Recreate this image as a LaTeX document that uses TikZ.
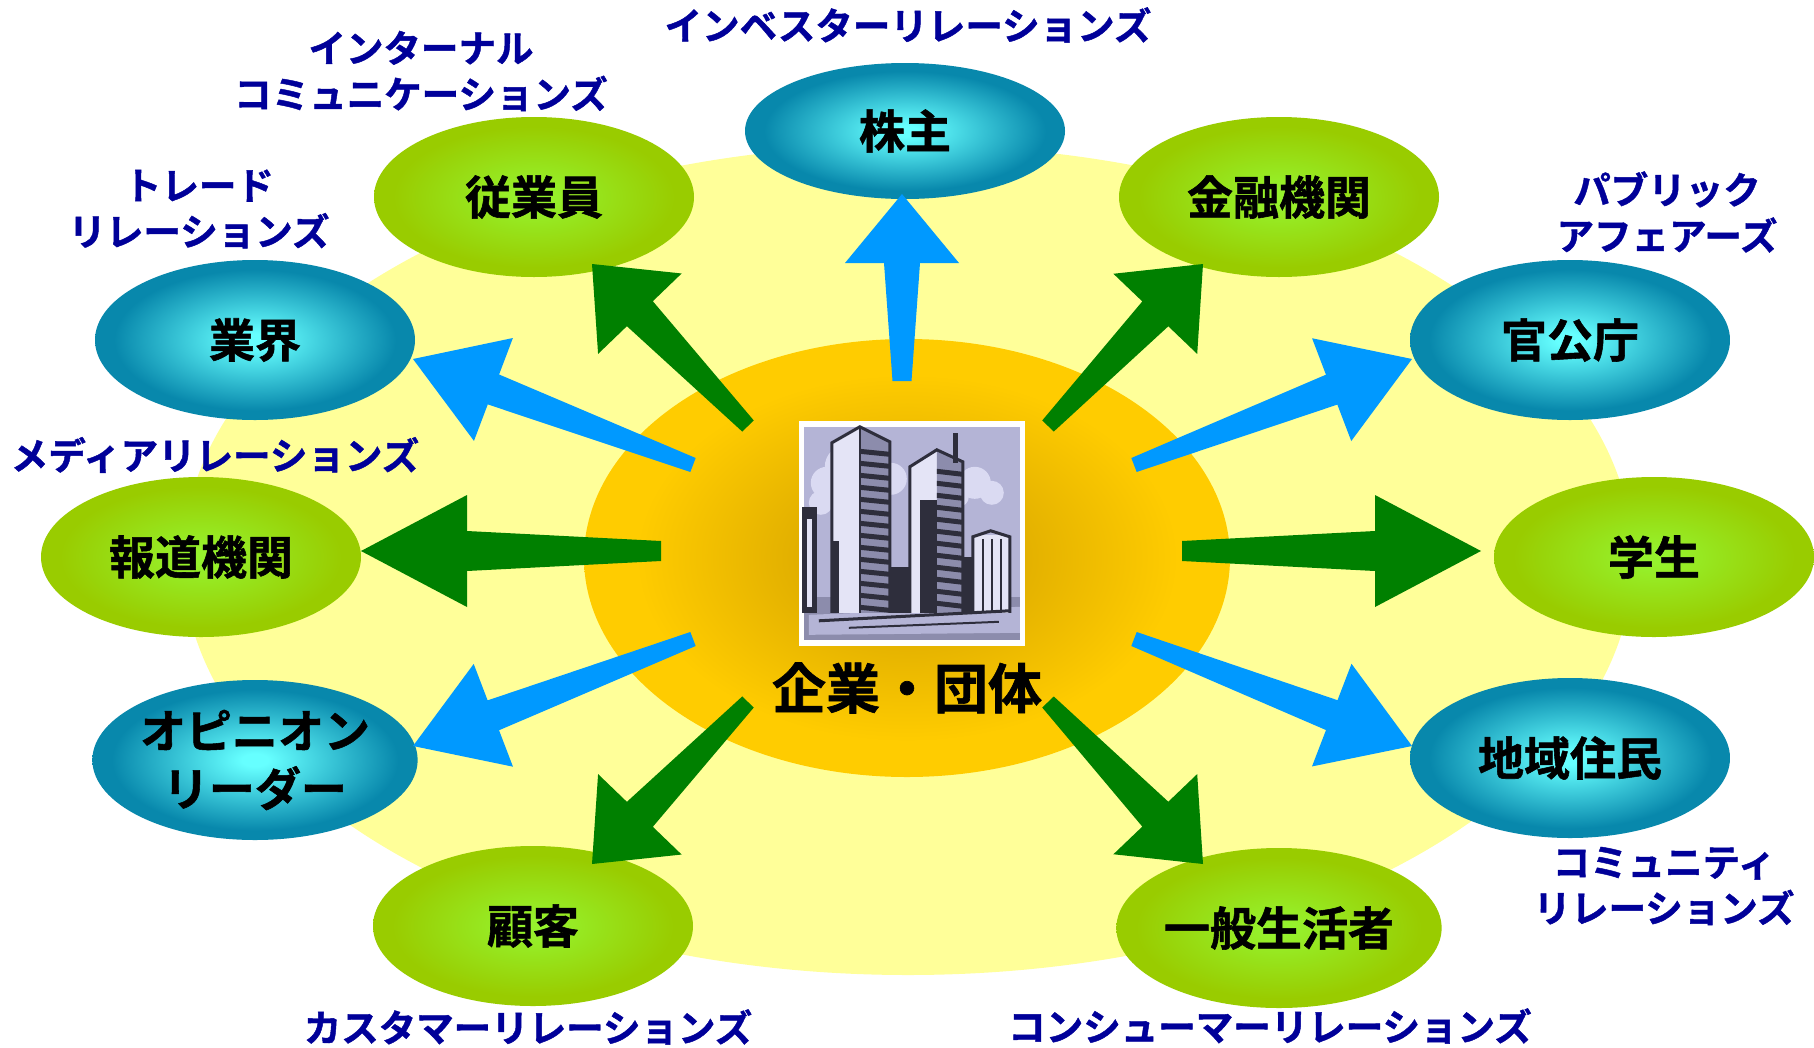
\documentclass[tikz,border=0pt]{standalone}
\usepackage{fontspec}
\usepackage{xcolor,tikz}
\usetikzlibrary{calc,shapes.geometric}
\newfontfamily\jp{Noto Sans CJK JP}[BoldFont={* Bold}, BoldFeatures={FakeBold=1.2}]
\definecolor{halo}{RGB}{255,255,153}
\definecolor{goldin}{RGB}{220,170,0}
\definecolor{goldout}{RGB}{255,204,0}
\definecolor{leafin}{RGB}{150,242,45}
\definecolor{leafout}{RGB}{153,204,0}
\definecolor{tealin}{RGB}{102,255,255}
\definecolor{tealout}{RGB}{8,136,172}
\definecolor{armgreen}{RGB}{0,128,0}
\definecolor{armblue}{RGB}{0,153,255}
\definecolor{prblue}{RGB}{0,0,153}
\definecolor{ink}{RGB}{46,46,60}
\definecolor{lilac}{RGB}{180,180,214}
\definecolor{cloud}{RGB}{218,218,242}
\definecolor{pale}{RGB}{228,228,246}
\definecolor{slate}{RGB}{140,140,172}
\pgfdeclareradialshading{leafglow}{\pgfpoint{0bp}{0bp}}{color(0bp)=(leafin); color(2bp)=(leafin); color(22bp)=(leafout); color(50bp)=(leafout)}
\pgfdeclareradialshading{tealglow}{\pgfpoint{0bp}{0bp}}{color(0bp)=(tealin); color(2bp)=(tealin); color(22bp)=(tealout); color(50bp)=(tealout)}
\pgfdeclareradialshading{goldglow}{\pgfpoint{0bp}{0bp}}{color(0bp)=(goldin); color(6bp)=(goldin); color(21bp)=(goldout); color(50bp)=(goldout)}

\begin{document}
\begin{tikzpicture}[x=1pt, y=-1pt, party/.style={ellipse, minimum width=320pt, minimum height=160pt, inner sep=0pt, align=center, font=\jp\bfseries\fontsize{46pt}{58pt}\selectfont}, grn/.style={party, shading=leafglow}, tel/.style={party, shading=tealglow}, pr/.style={text=prblue, align=center, inner sep=0pt, font=\jp\bfseries\fontsize{37.5pt}{46pt}\selectfont}]
\fill[white] (0,0) rectangle (1814,1047);
\useasboundingbox (0,0) rectangle (1814,1047);
\node[ellipse, fill=halo, minimum width=1450pt, minimum height=830pt] (halo) at (908,560){};
\node[ellipse, shading=goldglow, minimum width=646pt, minimum height=438pt] (core) at (907,558){};
\node[tel, minimum height=136pt] (kabu) at (905,131){株主};
\foreach \n/\x/\y/\s/\t in {jugyo/534/197/grn/従業員, kinyu/1279/197/grn/金融機関, gyokai/255/340/tel/業界, kancho/1570/340/tel/官公庁, hodo/201/557/grn/報道機関, gakusei/1654/557/grn/学生, opinion/255/760/tel/{オピニオン\\リーダー}, chiiki/1570/758/tel/地域住民, kokyaku/533/926/grn/顧客, seikatsu/1279/928/grn/一般生活者}{\node[\s] (\n) at (\x,\y){\t};}
\foreach \n/\x/\y in {hodo-r/661/551, hodo-t/361/551, gakusei-r/1182/551, gakusei-t/1481/551, kabu-r/902/381, kabu-t/902/194, jugyo-r/748/426, jugyo-t/592/264, kinyu-r/1048/426, kinyu-t/1203/264, gyokai-r/693/465, gyokai-t/413/359, kancho-r/1134/465, kancho-t/1412/359, opinion-r/693/639, opinion-t/413/746, chiiki-r/1134/639, chiiki-t/1412/746, kokyaku-r/748/702, kokyaku-t/592/864, seikatsu-r/1048/702, seikatsu-t/1203/864}{\coordinate (\n) at (\x,\y);}
\foreach \n/\c/\l/\h/\a/\b in {hodo/armgreen/106pt/56pt/10pt/20pt, gakusei/armgreen/106pt/56pt/10pt/20pt, kabu/armblue/69pt/57pt/9.5pt/18pt, jugyo/armgreen/69pt/58pt/8pt/18pt, kinyu/armgreen/69pt/58pt/8pt/18pt, kokyaku/armgreen/69pt/58pt/8pt/18pt, seikatsu/armgreen/69pt/58pt/8pt/18pt, gyokai/armblue/86pt/55pt/7.5pt/16pt, kancho/armblue/86pt/55pt/7.5pt/16pt, opinion/armblue/86pt/55pt/7.5pt/16pt, chiiki/armblue/86pt/55pt/7.5pt/16pt}{
\coordinate (neck) at ($(\n-t)!\l!(\n-r)$);
\fill[\c] ($(\n-r)!\a!90:(\n-t)$) -- ($(neck)!\b!90:(\n-t)$) -- ($(neck)!\h!90:(\n-t)$) -- (\n-t) -- ($(neck)!\h!-90:(\n-t)$) -- ($(neck)!\b!-90:(\n-t)$) -- ($(\n-r)!\a!-90:(\n-t)$) -- cycle;}
\node[fill=white, minimum width=226pt, minimum height=225pt, inner sep=0pt] (photo) at (912,533.5){};
\begin{scope}[shift={(photo.north west)}]
\fill[lilac] (5,6) rectangle (221,219);
\foreach \x/\y/\r in {28/62/16pt, 48/46/22pt, 72/40/18pt, 92/58/16pt, 60/70/18pt, 22/82/12pt, 176/62/16pt, 193/72/12pt, 160/76/10pt}{\fill[cloud] (\x,\y) circle[radius=\r];}
\fill[slate] (5,176) rectangle (221,219);
\fill[lilac] (10,194) -- (221,186) -- (221,212) -- (10,214) -- cycle;
\fill[ink] (3,86) rectangle (18,192);
\fill[pale] (8,98) rectangle (13,186);
\fill[ink] (91,146) rectangle (111,192);
\fill[ink] (164,136) rectangle (178,192);
\fill[pale] (33,22) -- (61,6) -- (61,192) -- (33,192) -- cycle;
\fill[slate] (61,6) -- (91,21) -- (91,192) -- (61,192) -- cycle;
\foreach \y in {28,40,...,184}{\fill[ink] (61,\y) -- (91,\y+3) -- (91,\y+8) -- (61,\y+5) -- cycle;}
\draw[ink, line width=3pt] (33,192) -- (33,22) -- (61,6) -- (91,21) -- (91,192);
\draw[ink, line width=2.5pt] (61,6) -- (61,192);
\fill[ink] (33,120) rectangle (40,192);
\fill[pale] (111,46) -- (138,29) -- (138,192) -- (111,192) -- cycle;
\fill[slate] (138,29) -- (164,41) -- (164,192) -- (138,192) -- cycle;
\foreach \y in {48,60,...,184}{\fill[ink] (138,\y) -- (164,\y+3) -- (164,\y+8) -- (138,\y+5) -- cycle;}
\fill[ink] (121,79) rectangle (138,192);
\fill[ink] (154,12) rectangle (159,42);
\draw[ink, line width=3pt] (111,192) -- (111,46) -- (138,29) -- (164,41) -- (164,192);
\fill[pale] (174,114) rectangle (211,192);
\draw[ink, line width=3pt] (174,192) -- (174,116) -- (192,110) -- (211,116) -- (211,192);
\foreach \x in {184,193,202}{\draw[ink, line width=2pt] (\x,118) -- (\x,192);}
\draw[ink, line width=3pt] (20,200) -- (210,190);
\draw[ink, line width=2pt] (50,207) -- (200,201);
\end{scope}
\node[font=\jp\bfseries\fontsize{54pt}{60pt}\selectfont] (org) at (907,688){企業・団体};
\foreach \n/\x/\y/\t in {ir/908/25/インベスターリレーションズ, ic/421/71/{インターナル\\コミュニケーションズ}, tr/199/209/{トレード\\リレーションズ}, pa/1667/212/{パブリック\\アフェアーズ}, mr/215/455/メディアリレーションズ, cr/1664/886/{コミュニティ\\リレーションズ}, ku/528/1027/カスタマーリレーションズ, co/1270/1026/コンシューマーリレーションズ}{\node[pr] (\n) at (\x,\y){\t};}
\end{tikzpicture}
\end{document}
